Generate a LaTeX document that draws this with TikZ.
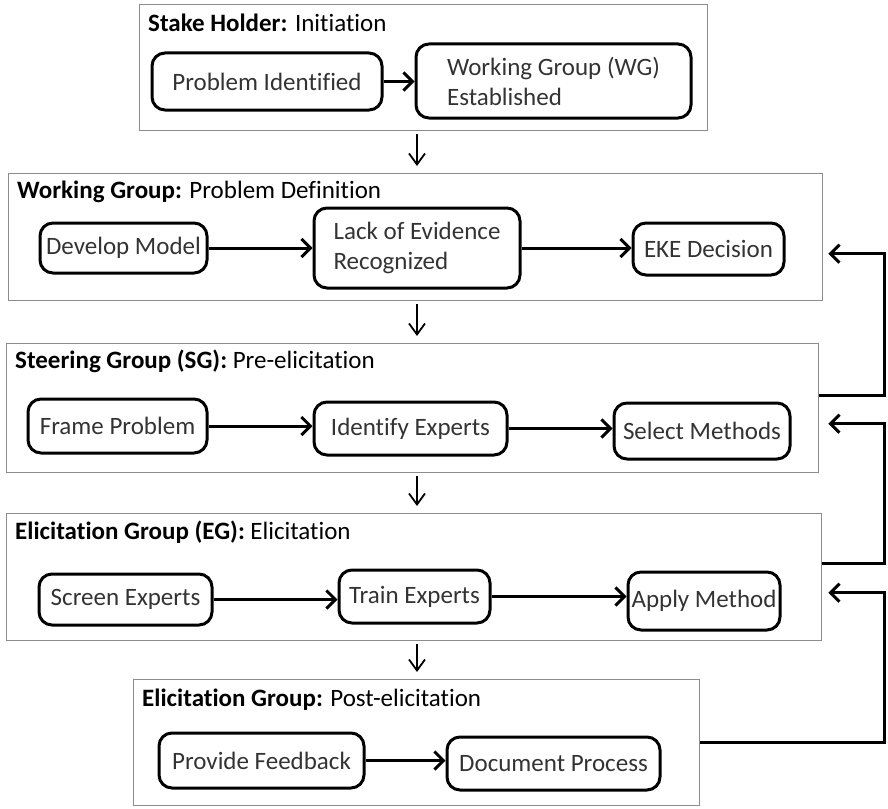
\documentclass[tikz,border=0pt]{standalone}
\usepackage{fontspec}
\setmainfont{Carlito}[Ligatures={NoCommon,NoRequired,NoContextual}]
\usepackage{tikz}
\usetikzlibrary{arrows.meta,positioning}
\definecolor{frame-gray}{HTML}{8C8C8C}
\definecolor{text-gray}{HTML}{333333}

\begin{document}
\begin{tikzpicture}[x=1pt, y=-1pt,
    stage/.style={draw=frame-gray, line width=1.4pt, rectangle, anchor=north west, inner sep=0pt},
    task/.style={draw, line width=3pt, rounded corners=13pt, text=text-gray, align=left, inner sep=0pt, font=\fontsize{25}{30}\selectfont},
    head/.style={anchor=west, inner sep=0pt, font=\fontsize{25}{30}\selectfont},
    flow/.style={-{Straight Barb[length=9pt,width=18pt,line width=3pt]}, line width=3pt},
    down/.style={-{Straight Barb[length=11pt,width=16pt,line width=1.8pt]}, line width=1.8pt, shorten <=3pt, shorten >=7pt},
]
    \useasboundingbox (0,0) rectangle (888,808);

    % stage frames
    \node[stage, minimum width=568pt, minimum height=126pt] (g1) at (139,4) {};
    \node[stage, minimum width=814pt, minimum height=127pt] (g2) at (8,173) {};
    \node[stage, minimum width=812pt, minimum height=129pt] (g3) at (6,343) {};
    \node[stage, minimum width=815pt, minimum height=127pt] (g4) at (6,513) {};
    \node[stage, minimum width=566pt, minimum height=126pt] (g5) at (133,679) {};

    \node[head] at ([shift={(9pt,-19pt)}]g1.north west) {\textbf{Stake Holder:} Initiation};
    \node[head] at ([shift={(9pt,-19pt)}]g2.north west) {\textbf{Working Group:} Problem Definition};
    \node[head] at ([shift={(9pt,-18pt)}]g3.north west) {\textbf{Steering Group (SG):} Pre-elicitation};
    \node[head] at ([shift={(9pt,-19pt)}]g4.north west) {\textbf{Elicitation Group (EG):} Elicitation};
    \node[head] at ([shift={(9pt,-21pt)}]g5.north west) {\textbf{Elicitation Group:} Post-elicitation};

    % tasks
    \node[task, minimum width=230pt, minimum height=57pt] (ident) at (267,81.5) {Problem Identified};
    \node[task, minimum width=275pt, minimum height=74pt] (wg) at (553.5,81) {Working Group (WG)\\Established};

    \node[task, minimum width=167pt, minimum height=50pt] (model) at (123.5,248) {Develop Model};
    \node[task, minimum width=206pt, minimum height=80pt] (lack) at (417,248) {Lack of Evidence\\Recognized};
    \node[task, minimum width=151pt, minimum height=52pt] (eke) at (708.5,249) {EKE Decision};

    \node[task, minimum width=179pt, minimum height=54pt] (frame) at (117.5,426) {Frame Problem};
    \node[task, minimum width=193pt, minimum height=53pt] (experts) at (410.5,428.5) {Identify Experts};
    \node[task, minimum width=176pt, minimum height=56pt] (methods) at (702,431) {Select Methods};

    \node[task, minimum width=173pt, minimum height=51pt] (screen) at (125.5,599.5) {Screen Experts};
    \node[task, minimum width=151pt, minimum height=53pt] (train) at (414.5,596.5) {Train Experts};
    \node[task, minimum width=152pt, minimum height=58pt] (apply) at (704,601) {Apply Method};

    \node[task, minimum width=205pt, minimum height=55pt] (feedback) at (261.5,760.5) {Provide Feedback};
    \node[task, minimum width=213pt, minimum height=53pt] (document) at (553.5,763.5) {Document Process};

    % arrows inside stages
    \draw[flow] (ident.east) -- (ident.east -| wg.west);
    \draw[flow] (model.east) -- (model.east -| lack.west);
    \draw[flow] (lack.east) -- (lack.east -| eke.west);
    \draw[flow] (frame.east) -- (frame.east -| experts.west);
    \draw[flow] (experts.east) -- (experts.east -| methods.west);
    \draw[flow] (screen.east) -- (screen.east -| train.west);
    \draw[flow] (train.east) -- (train.east -| apply.west);
    \draw[flow] (feedback.east) -- (feedback.east -| document.west);

    % stage to stage
    \draw[down] (g1.south -| lack) -- (g2.north -| lack);
    \draw[down] (g2.south -| lack) -- (g3.north -| lack);
    \draw[down] (g3.south -| lack) -- (g4.north -| lack);
    \draw[down] (g4.south -| lack) -- (g5.north -| lack);

    % feedback loops on the right
    \coordinate (rail) at (884,0);
    \coordinate (out3) at ([yshift=12.5pt]g3.east);
    \coordinate (out4) at ([yshift=13.5pt]g4.east);
    \coordinate (out5) at (g5.east);
    \coordinate (in2) at ([xshift=5pt,yshift=-16.5pt]g2.east);
    \coordinate (in3) at ([xshift=9pt,yshift=-15.5pt]g3.east);
    \coordinate (in4) at ([xshift=6pt,yshift=-15.5pt]g4.east);
    \draw[flow] (out3) -- (out3 -| rail) |- (in2);
    \draw[flow] (out4) -- (out4 -| rail) |- (in3);
    \draw[flow] (out5) -- (out5 -| rail) |- (in4);
\end{tikzpicture}
\end{document}
